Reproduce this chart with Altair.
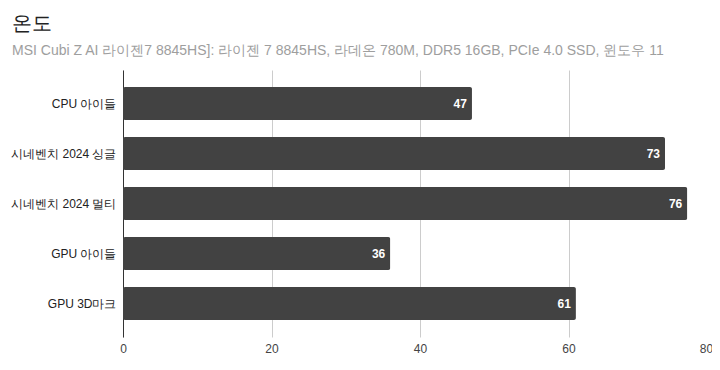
import altair as alt
import pandas as pd

categories = ["CPU 아이들", "시네벤치 2024 싱글", "시네벤치 2024 멀티", "GPU 아이들", "GPU 3D마크"]
values = [47, 73, 76, 36, 61]
x_ticks = [0, 20, 40, 60, 80]

title_text = "온도"
subtitle_text = "MSI Cubi Z AI 라이젠7 8845HS]: 라이젠 7 8845HS, 라데온 780M, DDR5 16GB, PCIe 4.0 SSD, 윈도우 11"

df = pd.DataFrame({"cat": categories, "v": values})

FONT = "Liberation Sans"

y_enc = alt.Y(
    "cat:N",
    sort=categories,
    scale=alt.Scale(paddingInner=0.34, paddingOuter=0.34),
    axis=alt.Axis(
        title=None,
        ticks=False,
        grid=False,
        domain=True,
        domainColor="#333333",
        domainWidth=1,
        labelPadding=7,
        labelFontSize=12,
        labelColor="#222222",
        labelFont=FONT,
    ),
)
x_enc = alt.X(
    "v:Q",
    scale=alt.Scale(domain=[0, 80], nice=False),
    axis=alt.Axis(
        title=None,
        values=x_ticks,
        ticks=False,
        domain=False,
        grid=True,
        gridColor="#cccccc",
        gridWidth=1,
        labelPadding=6,
        labelFontSize=12,
        labelColor="#444444",
        labelFont=FONT,
        labelFlush=False,
        labelOffset={"condition": {"test": "datum.value == 80", "value": -11}, "value": 0},
    ),
)

bars = alt.Chart(df).mark_bar(color="#424242", cornerRadius=2).encode(y=y_enc, x=x_enc)
labels = alt.Chart(df).mark_text(
    align="right", baseline="middle", dx=-5, color="white",
    fontWeight="bold", fontSize=12, font=FONT
).encode(y=alt.Y("cat:N", sort=categories), x="v:Q", text="v:Q")

chart = (bars + labels).properties(
    width=594,
    height=267,
    autosize=alt.AutoSizeParams(type="none"),
    padding={"left": 115, "top": 62, "right": -5, "bottom": 25},
    title=alt.TitleParams(
        title_text,
        subtitle=subtitle_text,
        anchor="start",
        frame="group",
        dx=-111,
        offset=12,
        font=FONT,
        fontSize=20,
        fontWeight="normal",
        color="#222222",
        subtitleFont=FONT,
        subtitleFontSize=14,
        subtitleColor="#9e9e9e",
        subtitlePadding=10,
    ),
).configure_view(stroke=None)

chart.save("out.html", embed_options={"renderer": "svg", "actions": False})
